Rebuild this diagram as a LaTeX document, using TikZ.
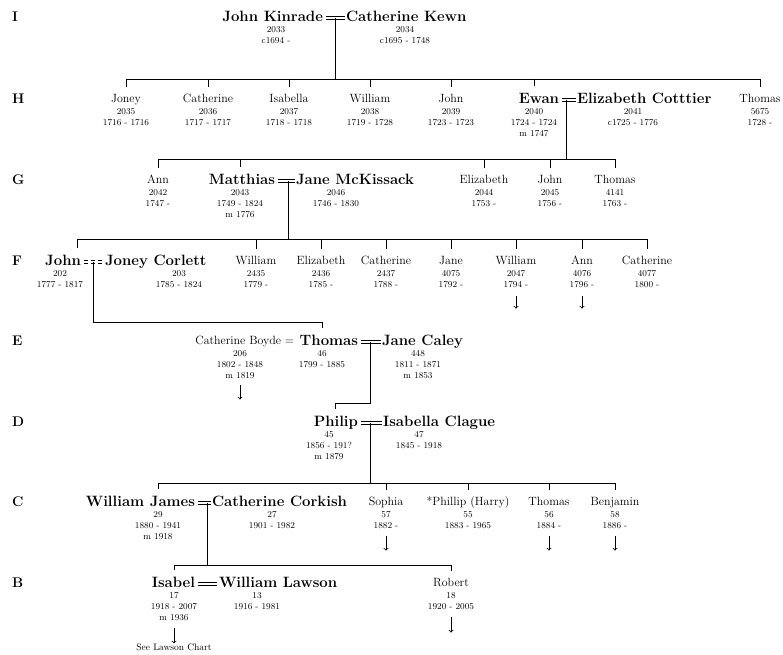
\documentclass[tikz,border=0pt]{standalone}
\usepackage{fontspec}
\begin{document}
\begin{tikzpicture}[x=1bp,y=-1bp,
	gen/.style={font=\bfseries\fontsize{14}{16}\selectfont,inner sep=0pt,anchor=west,text height=10pt,text depth=3pt},
	bnm/.style={font=\bfseries\fontsize{15}{17}\selectfont,inner sep=0pt,outer xsep=0pt,outer ysep=7.5pt,text height=10pt,text depth=3pt},
	nm/.style={font=\fontsize{12}{14}\selectfont,inner sep=0pt,outer xsep=0pt,outer ysep=8pt,text height=8.5pt,text depth=2.5pt},
	dt/.style={font=\fontsize{9}{11}\selectfont,align=center,inner sep=0pt,anchor=north},
	wed/.style={line width=0.7pt},
	ln/.style={line width=0.9pt},
	desc/.style={->,line width=0.8pt}]
	\useasboundingbox (0,0) rectangle (783,655);
	\node [gen] (ri) at (12,18) {I};
	\node [gen] (rh) at (12,100) {H};
	\node [gen] (rg) at (12,181) {G};
	\node [gen] (rf) at (12,262) {F};
	\node [gen] (re) at (12,342) {E};
	\node [gen] (rd) at (12,423) {D};
	\node [gen] (rc) at (12,503) {C};
	\node [gen] (rb) at (12,584) {B};
	\node [bnm,anchor=east] (kinrade) at (323,18) {John Kinrade};
	\node [dt] (kinrade-d) at (276,26) {2033\\c1694 -};
	\node [bnm,anchor=west] (kewn) at (346,18) {Catherine Kewn};
	\node [dt] (kewn-d) at (405,26) {2034\\c1695 - 1748};
	\node [nm] (joney) at (126,100) {Joney};
	\node [dt] (joney-d) at (126,108) {2035\\1716 - 1716};
	\node [nm] (cathh) at (208,100) {Catherine};
	\node [dt] (cathh-d) at (208,108) {2036\\1717 - 1717};
	\node [nm] (isab) at (289,100) {Isabella};
	\node [dt] (isab-d) at (289,108) {2037\\1718 - 1718};
	\node [nm] (willh) at (370,100) {William};
	\node [dt] (willh-d) at (370,108) {2038\\1719 - 1728};
	\node [nm] (johnh) at (451,100) {John};
	\node [dt] (johnh-d) at (451,108) {2039\\1723 - 1723};
	\node [bnm,anchor=east] (ewan) at (559,100) {Ewan};
	\node [dt] (ewan-d) at (534,108) {2040\\1724 - 1724\\m 1747};
	\node [bnm,anchor=west] (cotttier) at (577,100) {Elizabeth Cotttier};
	\node [dt] (cotttier-d) at (633,108) {2041\\c1725 - 1776};
	\node [nm] (thomh) at (760,100) {Thomas};
	\node [dt] (thomh-d) at (760,108) {5675\\1728 -};
	\node [nm] (anng) at (158,181) {Ann};
	\node [dt] (anng-d) at (158,189) {2042\\1747 -};
	\node [bnm,anchor=east] (matthias) at (275,181) {Matthias};
	\node [dt] (matthias-d) at (240,189) {2043\\1749 - 1824\\m 1776};
	\node [bnm,anchor=west] (mckissack) at (296,181) {Jane McKissack};
	\node [dt] (mckissack-d) at (336,189) {2046\\1746 - 1830};
	\node [nm] (elizg) at (484,181) {Elizabeth};
	\node [dt] (elizg-d) at (484,189) {2044\\1753 -};
	\node [nm] (johng) at (550,181) {John};
	\node [dt] (johng-d) at (550,189) {2045\\1756 -};
	\node [nm] (thomg) at (615,181) {Thomas};
	\node [dt] (thomg-d) at (615,189) {4141\\1763 -};
	\node [bnm,anchor=east] (johnf) at (81,262) {John};
	\node [dt] (johnf-d) at (60,270) {202\\1777 - 1817};
	\node [bnm,anchor=west] (joneyc) at (105,262) {Joney Corlett};
	\node [dt] (joneyc-d) at (179,270) {203\\1785 - 1824};
	\node [nm] (willf) at (256,262) {William};
	\node [dt] (willf-d) at (256,270) {2435\\1779 -};
	\node [nm] (elizf) at (321,262) {Elizabeth};
	\node [dt] (elizf-d) at (321,270) {2436\\1785 -};
	\node [nm] (cathf) at (386,262) {Catherine};
	\node [dt] (cathf-d) at (386,270) {2437\\1788 -};
	\node [nm] (janef) at (451,262) {Jane};
	\node [dt] (janef-d) at (451,270) {4075\\1792 -};
	\node [nm] (willf2) at (516,262) {William};
	\node [dt] (willf2-d) at (516,270) {2047\\1794 -};
	\node [nm] (annf) at (582,262) {Ann};
	\node [dt] (annf-d) at (582,270) {4076\\1796 -};
	\node [nm] (cathf2) at (647,262) {Catherine};
	\node [dt] (cathf2-d) at (647,270) {4077\\1800 -};
	\node [nm,anchor=east] (boyde) at (294,342) {Catherine Boyde =};
	\node [dt] (boyde-d) at (240,350) {206\\1802 - 1848\\m 1819};
	\node [bnm,anchor=east] (thomase) at (358,342) {Thomas};
	\node [dt] (thomase-d) at (322,350) {46\\1799 - 1885};
	\node [bnm,anchor=west] (caley) at (382,342) {Jane Caley};
	\node [dt] (caley-d) at (418,350) {448\\1811 - 1871\\m 1853};
	\node [bnm,anchor=east] (philip) at (358,423) {Philip};
	\node [dt] (philip-d) at (329,431) {45\\1856 - 191?\\m 1879};
	\node [bnm,anchor=west] (clague) at (383,423) {Isabella Clague};
	\node [dt] (clague-d) at (419,431) {47\\1845 - 1918};
	\node [bnm,anchor=east] (wjames) at (195,503) {William James};
	\node [dt] (wjames-d) at (158,511) {29\\1880 - 1941\\m 1918};
	\node [bnm,anchor=west] (corkish) at (212,503) {Catherine Corkish};
	\node [dt] (corkish-d) at (272,511) {27\\1901 - 1982};
	\node [nm] (sophia) at (386,503) {Sophia};
	\node [dt] (sophia-d) at (386,511) {57\\1882 -};
	\node [nm] (phillip) at (468,503) {*Phillip (Harry)};
	\node [dt] (phillip-d) at (468,511) {55\\1883 - 1965};
	\node [nm] (thomc) at (549,503) {Thomas};
	\node [dt] (thomc-d) at (549,511) {56\\1884 -};
	\node [nm] (benj) at (615,503) {Benjamin};
	\node [dt] (benj-d) at (615,511) {58\\1886 -};
	\node [bnm,anchor=east] (isabel) at (195,584) {Isabel};
	\node [dt] (isabel-d) at (174,592) {17\\1918 - 2007\\m 1936};
	\node [bnm,anchor=west] (lawson) at (219,584) {William Lawson};
	\node [dt] (lawson-d) at (257,592) {13\\1916 - 1981};
	\node [nm] (robert) at (451,584) {Robert};
	\node [dt] (robert-d) at (451,592) {18\\1920 - 2005};
	\node [font=\fontsize{9.5}{11}\selectfont,inner sep=0pt] (chart) at (174,647) {See Lawson Chart};
	\coordinate (m1) at (335,18);
	\coordinate (m2) at (566,100);
	\coordinate (m3) at (288,181);
	\coordinate (m4) at (93,262);
	\coordinate (m5) at (370,342);
	\coordinate (m6) at (370,423);
	\coordinate (m7) at (207,503);
	\coordinate (h) at (0,79);
	\coordinate (g) at (0,159);
	\coordinate (fl) at (77,239);
	\coordinate (ec) at (93,322);
	\coordinate (dc) at (370,403);
	\coordinate (c) at (0,483);
	\coordinate (b) at (0,565);
	\draw [wed] ([xshift=3pt,yshift=1.3pt]kinrade.east) -- ([xshift=-1.5pt,yshift=1.3pt]kewn.west) ([xshift=3pt,yshift=-1.3pt]kinrade.east) -- ([xshift=-1.5pt,yshift=-1.3pt]kewn.west);
	\draw [wed] ([xshift=3pt,yshift=1.3pt]ewan.east) -- ([xshift=-1.5pt,yshift=1.3pt]cotttier.west) ([xshift=3pt,yshift=-1.3pt]ewan.east) -- ([xshift=-1.5pt,yshift=-1.3pt]cotttier.west);
	\draw [wed] ([xshift=3pt,yshift=1.3pt]matthias.east) -- ([xshift=-1.5pt,yshift=1.3pt]mckissack.west) ([xshift=3pt,yshift=-1.3pt]matthias.east) -- ([xshift=-1.5pt,yshift=-1.3pt]mckissack.west);
	\draw [wed,dash pattern=on 4pt off 3pt] ([xshift=3pt,yshift=1.3pt]johnf.east) -- ([xshift=-3pt,yshift=1.3pt]joneyc.west) ([xshift=3pt,yshift=-1.3pt]johnf.east) -- ([xshift=-3pt,yshift=-1.3pt]joneyc.west);
	\draw [wed] ([xshift=3pt,yshift=1.3pt]thomase.east) -- ([xshift=-1.5pt,yshift=1.3pt]caley.west) ([xshift=3pt,yshift=-1.3pt]thomase.east) -- ([xshift=-1.5pt,yshift=-1.3pt]caley.west);
	\draw [wed] ([xshift=3pt,yshift=1.3pt]philip.east) -- ([xshift=-1.5pt,yshift=1.3pt]clague.west) ([xshift=3pt,yshift=-1.3pt]philip.east) -- ([xshift=-1.5pt,yshift=-1.3pt]clague.west);
	\draw [wed] ([xshift=3pt,yshift=1.3pt]wjames.east) -- ([xshift=-1.5pt,yshift=1.3pt]corkish.west) ([xshift=3pt,yshift=-1.3pt]wjames.east) -- ([xshift=-1.5pt,yshift=-1.3pt]corkish.west);
	\draw [wed] ([xshift=3pt,yshift=1.3pt]isabel.east) -- ([xshift=-2pt,yshift=1.3pt]lawson.west) ([xshift=3pt,yshift=-1.3pt]isabel.east) -- ([xshift=-2pt,yshift=-1.3pt]lawson.west);
	\draw [ln] (m1) -- (m1 |- h);
	\draw [ln] (joney |- h) -- (thomh |- h);
	\draw [ln] (joney |- h) -- (joney.north);
	\draw [ln] (cathh |- h) -- (cathh.north);
	\draw [ln] (isab |- h) -- (isab.north);
	\draw [ln] (willh |- h) -- (willh.north);
	\draw [ln] (johnh |- h) -- (johnh.north);
	\draw [ln] (ewan-d |- h) -- (ewan-d |- ewan.north);
	\draw [ln] (thomh |- h) -- (thomh.north);
	\draw [ln] (m2) -- (m2 |- g);
	\draw [ln] (anng |- g) -- (thomg |- g);
	\draw [ln] (anng |- g) -- (anng.north);
	\draw [ln] (matthias-d |- g) -- (matthias-d |- matthias.north);
	\draw [ln] (elizg |- g) -- (elizg.north);
	\draw [ln] (johng |- g) -- (johng.north);
	\draw [ln] (thomg |- g) -- (thomg.north);
	\draw [ln] (m3) -- (m3 |- fl);
	\draw [ln] (fl) -- (cathf2 |- fl);
	\draw [ln] (fl) -- (fl |- johnf.north);
	\draw [ln] (willf |- fl) -- (willf.north);
	\draw [ln] (elizf |- fl) -- (elizf.north);
	\draw [ln] (cathf |- fl) -- (cathf.north);
	\draw [ln] (janef |- fl) -- (janef.north);
	\draw [ln] (willf2 |- fl) -- (willf2.north);
	\draw [ln] (annf |- fl) -- (annf.north);
	\draw [ln] (cathf2 |- fl) -- (cathf2.north);
	\draw [ln] (m4) -- (ec) -| (thomase-d |- thomase.north);
	\draw [ln] (m5) -- (dc) -| (philip.north);
	\draw [ln] (m6) -- (m6 |- c);
	\draw [ln] (wjames-d |- c) -- (benj |- c);
	\draw [ln] (wjames-d |- c) -- (wjames-d |- wjames.north);
	\draw [ln] (sophia |- c) -- (sophia.north);
	\draw [ln] (phillip |- c) -- (phillip.north);
	\draw [ln] (thomc |- c) -- (thomc.north);
	\draw [ln] (benj |- c) -- (benj.north);
	\draw [ln] (m7) -- (m7 |- b);
	\draw [ln] (isabel-d |- b) -- (robert |- b);
	\draw [ln] (isabel-d |- b) -- (isabel-d |- isabel.north);
	\draw [ln] (robert |- b) -- (robert.north);
	\draw [desc] ([yshift=-8pt]willf2-d.south) -- ++(0,13);
	\draw [desc] ([yshift=-8pt]annf-d.south) -- ++(0,13);
	\draw [desc] ([yshift=-7pt]boyde-d.south) -- ++(0,14);
	\draw [desc] ([yshift=-7pt]sophia-d.south) -- ++(0,15);
	\draw [desc] ([yshift=-7pt]thomc-d.south) -- ++(0,15);
	\draw [desc] ([yshift=-7pt]benj-d.south) -- ++(0,15);
	\draw [desc] ([yshift=-7pt]robert-d.south) -- ++(0,16);
	\draw [desc] ([yshift=-7pt]isabel-d.south) -- (chart.north);
\end{tikzpicture}
\end{document}
